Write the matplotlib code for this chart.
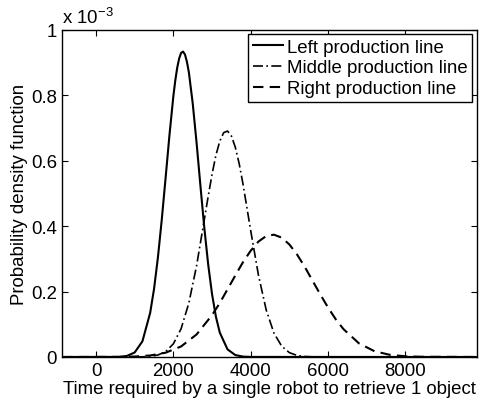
import matplotlib

matplotlib.use("Agg")

import matplotlib.pyplot as plt

plt.rcParams["font.family"] = ["Liberation Sans", "DejaVu Sans"]
plt.rcParams["mathtext.fontset"] = "custom"
plt.rcParams["mathtext.rm"] = "Liberation Sans"

# pdf values in units of 1e-3
x_left = [-880, 600, 800, 1000, 1200, 1400, 1500, 1600, 1700, 1800, 1900, 2000,
          2050, 2100, 2150, 2200, 2250, 2300, 2350, 2400, 2500, 2600, 2700,
          2800, 2900, 3000, 3100, 3200, 3400, 3600, 3800, 4000, 9850]
y_left = [0, 0.0003, 0.0032, 0.0138, 0.048, 0.135, 0.208, 0.304, 0.420, 0.549,
          0.680, 0.798, 0.846, 0.885, 0.913, 0.930, 0.934, 0.925, 0.903, 0.871,
          0.776, 0.655, 0.523, 0.395, 0.283, 0.192, 0.123, 0.0746, 0.0233,
          0.0059, 0.0012, 0.0002, 0]

x_mid = [-880, 1200, 1400, 1600, 1800, 2000, 2200, 2400, 2600, 2800, 2900, 3000,
         3100, 3200, 3300, 3400, 3500, 3600, 3700, 3800, 4000, 4200, 4400,
         4600, 4800, 5000, 5200, 5400, 5600, 9850]
y_mid = [0, 0.0005, 0.0020, 0.0060, 0.0165, 0.0402, 0.0864, 0.165, 0.279, 0.420,
         0.491, 0.559, 0.617, 0.660, 0.686, 0.691, 0.676, 0.642, 0.592, 0.529,
         0.386, 0.250, 0.144, 0.0731, 0.0331, 0.0132, 0.0047, 0.0015, 0.0004, 0]

x_right = [-880, 600, 1000, 1400, 1800, 2200, 2600, 3000, 3200, 3400, 3600,
           3800, 4000, 4200, 4400, 4600, 4800, 5000, 5200, 5400, 5600, 5800,
           6000, 6200, 6400, 6800, 7200, 7600, 8000, 8400, 9850]
y_right = [0, 0.0003, 0.0014, 0.0046, 0.0131, 0.0322, 0.0689, 0.128, 0.165,
           0.207, 0.249, 0.290, 0.325, 0.353, 0.370, 0.374, 0.365, 0.344, 0.313,
           0.275, 0.233, 0.191, 0.151, 0.115, 0.0850, 0.0415, 0.0176, 0.0065,
           0.0021, 0.0006, 0]

labels = ["Left production line", "Middle production line", "Right production line"]
x_ticks = [0, 2000, 4000, 6000, 8000]
y_ticks = [0, 0.2, 0.4, 0.6, 0.8, 1]
y_ticklabels = ["0", "0.2", "0.4", "0.6", "0.8", "1"]

FS = 13.4

fig = plt.figure(figsize=(4.79, 4.02), dpi=100)
ax = fig.add_axes([0.1294, 0.1095, 0.8664, 0.8134])

ax.plot(x_left, y_left, color="black", lw=1.5, ls="-", label=labels[0])
ax.plot(x_mid, y_mid, color="black", lw=1.2, ls=(0, (6, 2, 1, 2)), label=labels[1])
ax.plot(x_right, y_right, color="black", lw=1.5, ls=(0, (5, 3)), label=labels[2])

ax.set_xlim(-880, 9850)
ax.set_ylim(0, 1)
ax.set_xticks(x_ticks)
ax.set_yticks(y_ticks)
ax.set_yticklabels(y_ticklabels)
ax.tick_params(direction="in", top=True, right=True, labelsize=FS, length=4, width=0.8)
for s in ax.spines.values():
    s.set_linewidth(1.0)

ax.set_xlabel("Time required by a single robot to retrieve 1 object", fontsize=FS, labelpad=1)
ax.set_ylabel("Probability density function", fontsize=FS, labelpad=2)
ax.text(0.0, 1.01, r"x 10$^{-3}$", transform=ax.transAxes, fontsize=FS,
        ha="left", va="bottom")

leg = ax.legend(loc="upper right", bbox_to_anchor=(0.988, 0.988), borderaxespad=0,
                fontsize=FS, frameon=True, fancybox=False, edgecolor="black",
                handlelength=1.6, handletextpad=0.2, labelspacing=0.2,
                borderpad=0.25, framealpha=1)
leg.get_frame().set_linewidth(1.0)

fig.savefig("out.png", dpi=100)
